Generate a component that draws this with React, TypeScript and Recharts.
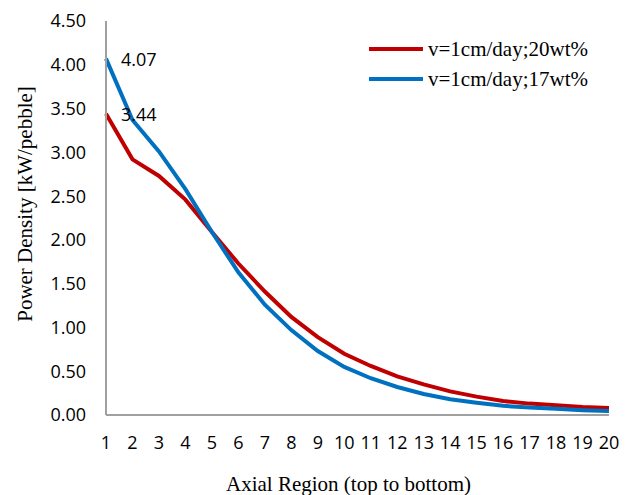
import React from 'react';
import { LineChart, Line, XAxis, YAxis, Legend, LabelList } from 'recharts';

const categories = ['1','2','3','4','5','6','7','8','9','10','11','12','13','14','15','16','17','18','19','20'];
const series20 = [3.44, 2.92, 2.73, 2.46, 2.09, 1.73, 1.41, 1.12, 0.89, 0.70, 0.56, 0.44, 0.35, 0.27, 0.21, 0.16, 0.13, 0.11, 0.09, 0.08];
const series17 = [4.07, 3.37, 3.01, 2.58, 2.09, 1.63, 1.26, 0.97, 0.73, 0.55, 0.42, 0.32, 0.24, 0.18, 0.14, 0.105, 0.085, 0.07, 0.055, 0.045];
const yTicks = [0, 0.5, 1, 1.5, 2, 2.5, 3, 3.5, 4, 4.5];
const name20 = 'v=1cm/day;20wt%';
const name17 = 'v=1cm/day;17wt%';
const legendOrder = [name20, name17];
const color20 = '#C00000';
const color17 = '#0070C0';

const data = categories.map((c, i) => ({ region: c, s20: series20[i], s17: series17[i] }));

const tickFont = { fontFamily: '"Open Sans", sans-serif', fontSize: 18, fill: '#000' };
const serif = '"Liberation Serif", "Times New Roman", serif';

const firstLabel = (props: any) => {
  const { x, y, value, index } = props;
  if (index !== 0) return null;
  return (
    <text x={x + 15} y={y} dominantBaseline="central" style={tickFont as any} fill="#000">
      {Number(value).toFixed(2)}
    </text>
  );
};

const legendContent = (props: any) => {
  const payload = [...(props.payload || [])].sort(
    (a: any, b: any) => legendOrder.indexOf(a.value) - legendOrder.indexOf(b.value)
  );
  return (
    <div>
      {payload.map((p: any) => (
        <div key={p.value} style={{ display: 'flex', alignItems: 'center', height: 30 }}>
          <svg width={54} height={6} style={{ display: 'block' }}>
            <line x1={0} y1={3} x2={54} y2={3} stroke={p.color} strokeWidth={4} />
          </svg>
          <span style={{ marginLeft: 5, fontFamily: serif, fontSize: 21, color: '#000', lineHeight: '30px' }}>{p.value}</span>
        </div>
      ))}
    </div>
  );
};

const yTitle = (props: any) => {
  const vb = props.viewBox || { x: 0, y: 21, width: 106, height: 394 };
  const cx = vb.x + 25;
  const cy = vb.y + vb.height / 2 - 14;
  return (
    <text x={cx} y={cy} transform={`rotate(-90 ${cx} ${cy})`} textAnchor="middle" dominantBaseline="central"
      style={{ fontFamily: serif, fontSize: 21 }} fill="#000">
      Power Density [kW/pebble]
    </text>
  );
};

const xTitle = (props: any) => {
  const vb = props.viewBox || { x: 106, y: 415, width: 503, height: 80 };
  const cx = vb.x + vb.width / 2 - 9;
  const cy = vb.y + 69;
  return (
    <text x={cx} y={cy} textAnchor="middle" dominantBaseline="central" style={{ fontFamily: serif, fontSize: 21 }} fill="#000">
      Axial Region (top to bottom)
    </text>
  );
};

export default function App() {
  return (
    <div style={{ position: 'absolute', left: 0, top: 0, width: 634, height: 495, background: '#fff' }}>
      <LineChart width={634} height={495} data={data} margin={{ top: 21, right: 25, left: 0, bottom: 0 }}>
        <XAxis
          dataKey="region"
          height={80}
          tickLine={false}
          tickSize={0}
          tickMargin={21}
          axisLine={{ stroke: '#A0A0A0', strokeWidth: 2 }}
          tick={tickFont}
          interval={0}
          label={xTitle}
        />
        <YAxis
          width={106}
          domain={[0, 4.5]}
          ticks={yTicks}
          tickFormatter={(v: number) => v.toFixed(2)}
          tickLine={false}
          tickSize={0}
          tickMargin={20}
          axisLine={{ stroke: '#A0A0A0', strokeWidth: 2 }}
          tick={tickFont}
          allowDataOverflow
          label={yTitle}
        />
        <Legend
          layout="horizontal"
          verticalAlign="middle"
          align="center"
          content={legendContent}
          wrapperStyle={{ left: 369, top: 34, width: 250 }}
        />
        <Line type="linear" dataKey="s20" name={name20} stroke={color20} strokeWidth={4} dot={false} isAnimationActive={false}>
          <LabelList dataKey="s20" content={firstLabel} />
        </Line>
        <Line type="linear" dataKey="s17" name={name17} stroke={color17} strokeWidth={4} dot={false} isAnimationActive={false}>
          <LabelList dataKey="s17" content={firstLabel} />
        </Line>
      </LineChart>
    </div>
  );
}
